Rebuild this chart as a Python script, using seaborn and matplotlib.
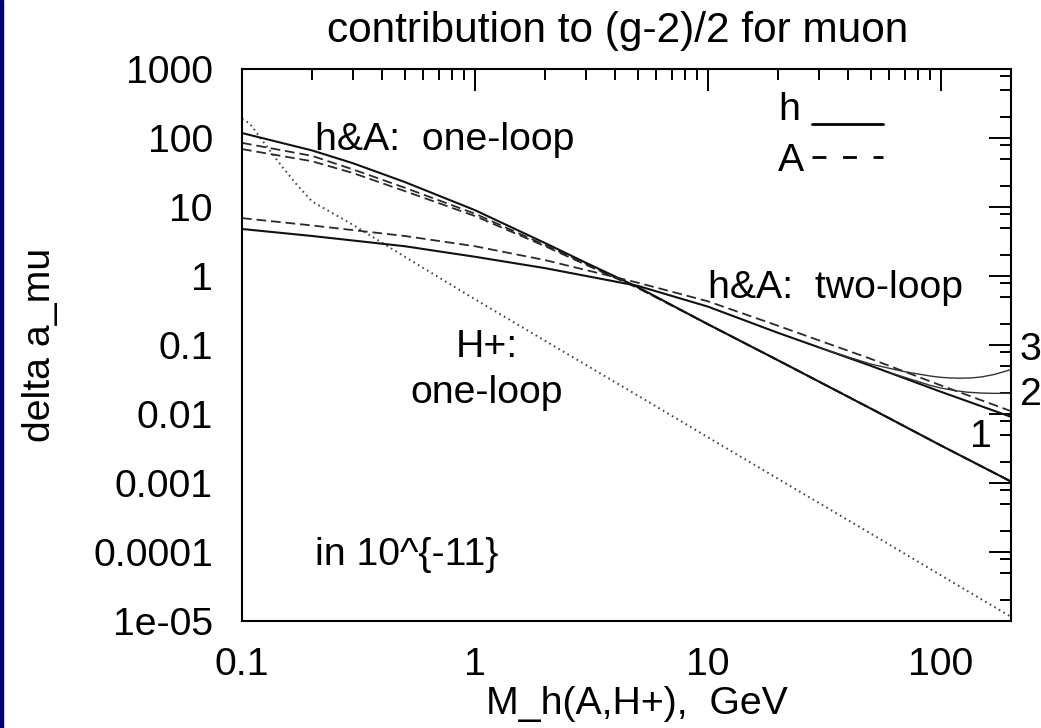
import matplotlib
matplotlib.use("Agg")
import matplotlib.pyplot as plt
import seaborn as sns
import pandas as pd
from matplotlib.ticker import FixedLocator, FixedFormatter, LogLocator, NullFormatter
from matplotlib.lines import Line2D
from matplotlib.patches import Rectangle

# ---------------- data ----------------
mass_1loop = [0.1, 0.2, 0.3, 0.5, 1, 2, 3, 5, 10, 20, 50, 100, 200]
h_1loop    = [118, 66, 43, 23, 9.0, 3.0, 1.55, 0.69, 0.20, 0.060, 0.0120, 0.0035, 0.00105]
A_1loop_a  = [85, 55, 35, 19, 8.0, 2.8, 1.5, 0.68, 0.20, 0.060, 0.0120, 0.0035, 0.00105]
A_1loop_b  = [69, 46, 31, 17, 7.4, 2.7, 1.45, 0.67, 0.20, 0.060, 0.0120, 0.0035, 0.00105]

mass_2loop = [0.1, 0.2, 0.5, 1, 2, 5, 10, 20, 50, 100, 200]
h_2loop    = [4.8, 3.8, 2.7, 1.9, 1.3, 0.72, 0.36, 0.15, 0.050, 0.021, 0.0091]
A_2loop    = [6.9, 5.4, 3.8, 2.7, 1.7, 0.80, 0.43, 0.19, 0.063, 0.026, 0.0110]

mass_case3 = [30, 40, 50, 60, 70, 80, 90, 100, 110, 120, 135, 150, 170, 200]
h_2loop_3  = [0.092, 0.067, 0.053, 0.046, 0.041, 0.038, 0.0355, 0.034, 0.0333, 0.033, 0.0333, 0.0345, 0.0375, 0.044]
mass_case2 = [60, 70, 80, 90, 100, 115, 130, 150, 170, 200]
h_2loop_2  = [0.040, 0.034, 0.0295, 0.026, 0.0238, 0.0218, 0.0207, 0.0201, 0.0199, 0.0200]

mass_Hp    = [0.1, 0.105, 0.11, 0.12, 0.13, 0.14, 0.15, 0.17, 0.2, 0.3, 0.5, 1, 2, 5, 10, 20, 50, 100, 200]
Hp_1loop   = [190, 172, 150, 100, 70, 50, 37, 22, 12, 5.5, 1.9, 0.46, 0.115, 0.0185, 0.0046,
              0.00115, 0.000185, 4.6e-5, 1.15e-5]

xtick_vals   = [0.1, 1, 10, 100]
xtick_labels = ["0.1", "1", "10", "100"]
ytick_vals   = [1e-5, 1e-4, 1e-3, 1e-2, 1e-1, 1, 10, 100, 1000]
ytick_labels = ["1e-05", "0.0001", "0.001", "0.01", "0.1", "1", "10", "100", "1000"]

# ---------------- style ----------------
sns.set_theme(style="white")
plt.rcParams["font.family"] = ["Liberation Sans", "DejaVu Sans"]
plt.rcParams["lines.scale_dashes"] = False
FS = 28.3

W, H = 1041, 728
fig = plt.figure(figsize=(W / 100, H / 100), dpi=100)
fig.patch.set_facecolor("white")
L, R, T, B = 242, 1011, 69, 621
ax = fig.add_axes([L / W, 1 - B / H, (R - L) / W, (B - T) / H])
ax.set_facecolor("white")
ax.set_xscale("log")
ax.set_yscale("log")

# navy slide edge
fig.add_artist(Rectangle((0, 0), 3 / W, 1, transform=fig.transFigure,
                         color="#00006b", zorder=10))

solid = dict(color="#111111", linewidth=1.5, linestyle="-")
dashed = dict(color="#2a2a2a", linewidth=1.3, linestyle=(0, (7, 3.5)))
thin = dict(color="#333333", linewidth=1.0, linestyle="-")
dotted = dict(color="#444444", linewidth=1.4, linestyle=(0, (1.2, 2.6)))

def draw(x, y, style):
    df = pd.DataFrame({"x": x, "y": y})
    sns.lineplot(data=df, x="x", y="y", ax=ax, estimator=None, sort=False, **style)

draw(mass_Hp, Hp_1loop, dotted)
draw(mass_1loop, A_1loop_a, dashed)
draw(mass_1loop, A_1loop_b, dashed)
draw(mass_1loop, h_1loop, solid)
draw(mass_2loop, A_2loop, dashed)
draw(mass_2loop, h_2loop, solid)
draw(mass_case3, h_2loop_3, thin)
draw(mass_case2, h_2loop_2, thin)

ax.set_xlim(0.1, 200)
ax.set_ylim(1e-5, 1000)

# ticks
ax.xaxis.set_major_locator(FixedLocator(xtick_vals))
ax.xaxis.set_major_formatter(FixedFormatter(xtick_labels))
ax.yaxis.set_major_locator(FixedLocator(ytick_vals))
ax.yaxis.set_major_formatter(FixedFormatter(ytick_labels))
ax.xaxis.set_minor_locator(LogLocator(base=10, subs=(2, 3, 4, 5, 6, 7, 8, 9), numticks=20))
ax.yaxis.set_minor_locator(LogLocator(base=10, subs=(2, 5, 8), numticks=20))
ax.xaxis.set_minor_formatter(NullFormatter())
ax.yaxis.set_minor_formatter(NullFormatter())
ax.tick_params(which="both", direction="in", top=True, right=True, color="black",
               width=1.4, labelcolor="black", labelsize=FS)
ax.tick_params(which="major", length=15.5)
ax.tick_params(which="minor", length=8)
ax.tick_params(axis="x", which="major", pad=18.5)
ax.tick_params(axis="y", which="major", pad=20.9)
for s in ax.spines.values():
    s.set_visible(True)
    s.set_color("black")
    s.set_linewidth(1.5)

ax.set_xlabel("M_h(A,H+),  GeV", fontsize=FS, color="black", va="baseline")
ax.xaxis.set_label_coords((637 - L) / (R - L), (B - 714) / (B - T))
ax.set_ylabel("delta a_mu", fontsize=FS, color="black", va="baseline")
ax.yaxis.set_label_coords((50 - L) / (R - L), 0.5)

fig.text(618 / W, 1 - 42 / H, "contribution to (g-2)/2 for muon", ha="center",
         va="baseline", fontsize=30.5, color="black")

def atext(px, py, s, **kw):
    ax.text((px - L) / (R - L), (B - py) / (B - T), s, transform=ax.transAxes,
            fontsize=FS, color="black", va="baseline", **kw)

atext(315, 150, "h&A:  one-loop")
atext(778, 120, "h")
atext(778, 171, "A")
atext(708, 298, "h&A:  two-loop")
atext(1020, 360, "3")
atext(1020, 405, "2")
atext(970, 447, "1")
atext(487, 357, "H+:", ha="center")
atext(487, 403, "one-loop", ha="center")
atext(315, 565, "in 10^{-11}")

# key samples (h solid, A dashed)
handles = [Line2D([], [], color="black", linewidth=2.0, linestyle="-"),
           Line2D([], [], color="black", linewidth=2.0, linestyle=(0, (10, 12)))]
ax.legend(handles, ["", ""], loc="upper left", bbox_to_anchor=(812 / W, 1 - 118 / H),
          bbox_transform=fig.transFigure, frameon=False, fontsize=10,
          handlelength=5.1, handleheight=0.7, handletextpad=0, borderpad=0,
          borderaxespad=0, labelspacing=1.33)

fig.savefig("out.png", dpi=100)
